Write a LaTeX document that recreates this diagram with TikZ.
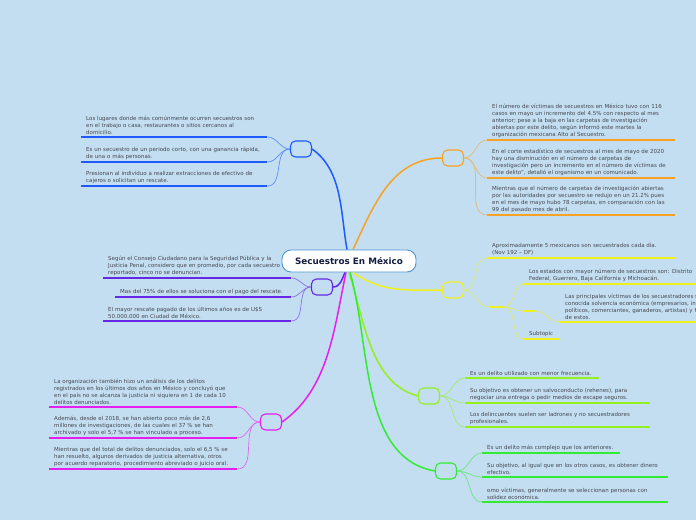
\documentclass[tikz,border=0pt]{standalone}
\usepackage{fontspec}
\setmainfont{DejaVu Sans}
\usepackage{tikz}
\usetikzlibrary{positioning}
\definecolor{bgblue}{RGB}{195,222,240}
\definecolor{rootline}{RGB}{80,150,210}
\definecolor{titletxt}{RGB}{20,30,65}
\definecolor{leaftxt}{RGB}{70,72,82}
\definecolor{blueB}{RGB}{30,90,255}
\definecolor{orng}{RGB}{247,162,35}
\definecolor{violet}{RGB}{100,40,230}
\definecolor{yell}{RGB}{240,240,30}
\definecolor{magn}{RGB}{230,30,240}
\definecolor{lime}{RGB}{145,240,30}
\definecolor{grn}{RGB}{50,235,50}
\newcommand{\leaffont}{\fontsize{5.5}{6.8}\selectfont}

\begin{document}
\begin{tikzpicture}[x=1pt, y=-1pt,
  root/.style={rectangle, rounded corners=9pt, draw=rootline, fill=white, line width=0.9pt,
               minimum width=134pt, minimum height=22pt, text=titletxt,
               font=\fontsize{8.8}{10}\selectfont\bfseries},
  hub/.style={rectangle, rounded corners=5pt, draw=#1, line width=1.1pt,
              minimum width=21pt, minimum height=16pt, inner sep=0pt},
  leaf/.style={anchor=south west, inner xsep=5pt, inner ysep=2.6pt, text width=#1,
               align=left, font=\leaffont, text=leaftxt},
  stub/.style={anchor=south west, inner sep=0pt, minimum width=#1},
  trunk/.style={draw=#1, line width=1.5pt},
  twig/.style={draw=#1!60!bgblue, line width=0.7pt},
  uline/.style={draw=#1, line width=1.4pt}]
  \useasboundingbox (0,0) rectangle (696,520);
  \fill[bgblue] (0,0) rectangle (696,520);

  \node[root] (root) at (349,261) {Secuestros En México};

  % hubs
  \node[hub=blueB]  (hB) at (301,149) {};
  \node[hub=orng]   (hO) at (453,158) {};
  \node[hub=violet] (hV) at (322,287) {};
  \node[hub=yell]   (hY) at (453,290) {};
  \node[hub=magn]   (hM) at (271,422) {};
  \node[hub=lime]   (hL) at (429,396) {};
  \node[hub=grn]    (hG) at (446,471) {};

  \draw[trunk=blueB]  ([xshift=-2pt]root.north) to[out=100,in=-35,looseness=0.9] (hB.east);
  \draw[trunk=orng]   ([xshift=4pt]root.north) to[out=65,in=180] (hO.west);
  \draw[trunk=violet] ([xshift=-4pt]root.south) to[out=-115,in=0] (hV.east);
  \draw[trunk=yell]   ([xshift=4pt]root.south) to[out=-35,in=180] (hY.west);
  \draw[trunk=magn]   ([xshift=-3pt]root.south) to[out=-102,in=35,looseness=0.9] (hM.east);
  \draw[trunk=lime]   ([xshift=0pt]root.south) to[out=-72,in=165,looseness=0.9] (hL.west);
  \draw[trunk=grn]    ([xshift=1pt]root.south) to[out=-74,in=170,looseness=0.9] (hG.west);

  % blue
  \node[leaf=176pt] (b1) at (81,137) {Los lugares donde más comúnmente ocurren secuestros son\\en el trabajo o casa, restaurantes o sitios cercanos al\\domicilio.};
  \node[leaf=176pt] (b2) at (81,162) {Es un secuestro de un periodo corto, con una ganancia rápida,\\de una o más personas.};
  \node[leaf=176pt] (b3) at (81,186) {Presionan al individuo a realizar extracciones de efectivo de\\cajeros o solicitan un rescate.};
  \foreach \n in {b1,b2,b3} {
    \draw[uline=blueB] (\n.south west) -- (\n.south east);
    \draw[twig=blueB] (hB.west) to[out=180,in=0] (\n.south east);
  }

  % violet
  \node[leaf=178pt] (v1) at (103,278) {Según el Consejo Ciudadano para la Seguridad Pública y la\\Justicia Penal, considero que en promedio, por cada secuestro\\reportado, cinco no se denuncian.};
  \node[leaf=166pt] (v2) at (115,297) {Mas del 75\% de ellos se soluciona con el pago del rescate.};
  \node[leaf=178pt] (v3) at (103,321) {El mayor rescate pagado de los últimos años es de U\$S\\50.000.000 en Ciudad de México.};
  \foreach \n in {v1,v2,v3} {
    \draw[uline=violet] (\n.south west) -- (\n.south east);
    \draw[twig=violet] (hV.west) to[out=180,in=0] (\n.south east);
  }

  % magenta
  \node[leaf=178pt] (m1) at (49,407) {La organización también hizo un análisis de los delitos\\registrados en los últimos dos años en México y concluyó que\\en el país no se alcanza la justicia ni siquiera en 1 de cada 10\\delitos denunciados.};
  \node[leaf=178pt] (m2) at (49,438) {Además, desde el 2018, se han abierto poco más de 2,6\\millones de investigaciones, de las cuales el 37 \% se han\\archivado y solo el 5,7 \% se han vinculado a proceso.};
  \node[leaf=178pt] (m3) at (49,469) {Mientras que del total de delitos denunciados, solo el 6,5 \% se\\han resuelto, algunos derivados de justicia alternativa, otros\\por acuerdo reparatorio, procedimiento abreviado o juicio oral.};
  \foreach \n in {m1,m2,m3} {
    \draw[uline=magn] (\n.south west) -- (\n.south east);
    \draw[twig=magn] (hM.west) to[out=180,in=0] (\n.south east);
  }

  % orange
  \node[leaf=178pt] (o1) at (487,140) {El número de víctimas de secuestros en México tuvo con 116\\casos en mayo un incremento del 4.5\% con respecto al mes\\anterior; pese a la baja en las carpetas de investigación\\abiertas por este delito, según informó este martes la\\organización mexicana Alto al Secuestro.};
  \node[leaf=178pt] (o2) at (487,178) {En el corte estadístico de secuestros al mes de mayo de 2020\\hay una disminución en el número de carpetas de\\investigación pero un incremento en el número de víctimas de\\este delito", detalló el organismo en un comunicado.};
  \node[leaf=178pt] (o3) at (487,215) {Mientras que el número de carpetas de investigación abiertas\\por las autoridades por secuestro se redujo en un 21.2\% pues\\en el mes de mayo hubo 78 carpetas, en comparación con las\\99 del pasado mes de abril.};
  \foreach \n in {o1,o2,o3} {
    \draw[uline=orng] (\n.south west) -- (\n.south east);
    \draw[twig=orng] (hO.east) to[out=0,in=180] (\n.south west);
  }

  % yellow
  \node[leaf=178pt] (y1) at (487,258) {Aproximadamente 5 mexicanos son secuestrados cada día.\\(Nov 192 – DF)};
  \node[stub=14pt] (y2) at (489,307) {};
  \node[leaf=170pt] (y3) at (524,284) {Los estados con mayor número de secuestros son: Distrito\\Federal, Guerrero, Baja California y Michoacán.};
  \node[stub=11pt] (y4) at (524,311) {};
  \node[leaf=190pt] (y5) at (560,322) {Las principales víctimas de los secuestradores son personas de\\conocida solvencia económica (empresarios, industriales,\\políticos, comerciantes, ganaderos, artistas) y familiares\\de estos.};
  \node[leaf=26pt] (y6) at (524,339) {Subtopic};
  \foreach \n in {y1,y2,y3,y4,y5,y6}
    \draw[uline=yell] (\n.south west) -- (\n.south east);
  \draw[twig=yell] (hY.east) to[out=0,in=180] (y1.south west);
  \draw[twig=yell] (hY.east) to[out=0,in=180] (y2.south west);
  \foreach \n in {y3,y4,y6}
    \draw[twig=yell] (y2.south east) to[out=0,in=180] (\n.south west);
  \draw[twig=yell] (y4.south east) to[out=0,in=180] (y5.south west);

  % lime
  \node[leaf=124pt] (c1) at (465,378) {Es un delito utilizado con menor frecuencia.};
  \node[leaf=175pt] (c2) at (465,403) {Su objetivo es obtener un salvoconducto (rehenes), para\\negociar una entrega o pedir medios de escape seguros.};
  \node[leaf=175pt] (c3) at (465,427) {Los delincuentes suelen ser ladrones y no secuestradores\\profesionales.};
  \foreach \n in {c1,c2,c3} {
    \draw[uline=lime] (\n.south west) -- (\n.south east);
    \draw[twig=lime] (hL.east) to[out=0,in=180] (\n.south west);
  }

  % green
  \node[leaf=128pt] (g1) at (482,453) {Es un delito más complejo que los anteriores.};
  \node[leaf=176pt] (g2) at (482,477) {Su objetivo, al igual que en los otros casos, es obtener dinero\\efectivo.};
  \node[leaf=176pt] (g3) at (482,502) {omo víctimas, generalmente se seleccionan personas con\\solidez económica.};
  \foreach \n in {g1,g2,g3} {
    \draw[uline=grn] (\n.south west) -- (\n.south east);
    \draw[twig=grn] (hG.east) to[out=0,in=180] (\n.south west);
  }
\end{tikzpicture}
\end{document}
